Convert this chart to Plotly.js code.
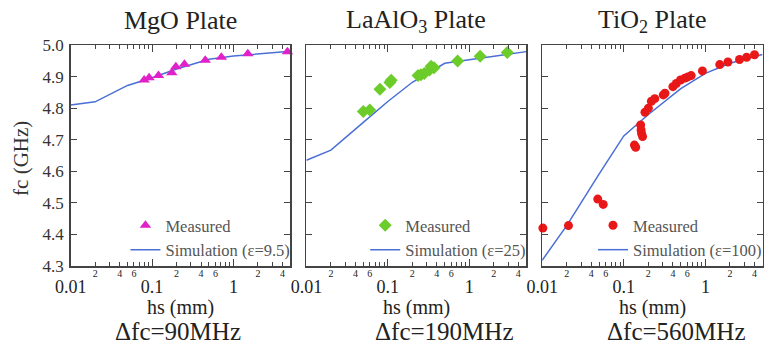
<!DOCTYPE html>
<html>
<head>
<meta charset="utf-8">
<script src="https://cdn.plot.ly/plotly-3.0.1.min.js"></script>
<style>html,body{margin:0;padding:0;background:#fff;}#chart{width:767px;height:345px;}</style>
</head>
<body>
<div id="chart"></div>
<script>
// ---- tick labels ----
const hsMajorTicks = [0.01, 0.1, 1];
const hsMajorText = ['0.01', '0.1', '1'];
const hsMinorTicks = [0.02,0.03,0.04,0.05,0.06,0.07,0.08,0.09,0.2,0.3,0.4,0.5,0.6,0.7,0.8,0.9,2,3,4];
const hsMinorText = ['2','','4','','6','','','','2','','4','','6','','','','2','','4'];
const fcTicks = [4.3, 4.4, 4.5, 4.6, 4.7, 4.8, 4.9, 5.0];

// ---- panel titles / notes ----
const panelTitles = ['MgO Plate', 'LaAlO<sub>3</sub> Plate', 'TiO<sub>2</sub> Plate'];
const deltaLabels = ['\u0394fc=90MHz', '\u0394fc=190MHz', '\u0394fc=560MHz'];
const simNames = ['Simulation (\u03b5=9.5)', 'Simulation (\u03b5=25)', 'Simulation (\u03b5=100)'];

// ---- simulation (shared hs grid) ----
const simHs = [0.01, 0.02, 0.05, 0.1, 0.2, 0.5, 1, 2, 5];
const mgoSimFc = [4.810, 4.820, 4.872, 4.896, 4.924, 4.955, 4.965, 4.971, 4.980];
const laSimFc  = [4.635, 4.667, 4.755, 4.821, 4.882, 4.942, 4.953, 4.965, 4.979];
const tiSimFc  = [4.318, 4.428, 4.592, 4.712, 4.780, 4.862, 4.910, 4.942, 4.970];

// ---- measured ----
const mgoHs = [0.08, 0.092, 0.12, 0.175, 0.196, 0.25, 0.45, 0.71, 1.5, 4.6];
const mgoFc = [4.889, 4.896, 4.903, 4.912, 4.931, 4.939, 4.952, 4.961, 4.972, 4.979];

const laHs = [0.05, 0.06, 0.08, 0.106, 0.11, 0.235, 0.255, 0.28, 0.325, 0.34, 0.37, 0.72, 1.36, 2.93];
const laFc = [4.789, 4.794, 4.860, 4.881, 4.888, 4.903, 4.906, 4.910, 4.921, 4.933, 4.928, 4.949, 4.964, 4.976];

const tiHs = [0.0102, 0.021, 0.048, 0.056, 0.135, 0.14, 0.161, 0.163, 0.165, 0.17, 0.182, 0.2, 0.218, 0.24, 0.305, 0.32, 0.40, 0.44, 0.495, 0.56, 0.61, 0.67, 0.92, 1.5, 1.89, 2.62, 3.2, 4.0];
const tiFc = [4.420, 4.428, 4.512, 4.495, 4.683, 4.676, 4.747, 4.731, 4.720, 4.710, 4.787, 4.800, 4.822, 4.830, 4.842, 4.847, 4.868, 4.878, 4.889, 4.895, 4.899, 4.903, 4.918, 4.938, 4.946, 4.954, 4.961, 4.969];

// ---- styling ----
const W = 767, H = 345;
const FONT = 'Liberation Serif';
const lineColor = '#4a6fd6';
const axisColor = '#444';
const panelsPx = [[71, 292], [308, 529], [545, 766.5]];
const yPx = [45, 266];
const deltaCenters = [179, 446, 680];
const markerStyles = [
  {symbol: 'triangle-up', color: '#e020c8', size: 10},
  {symbol: 'diamond', color: '#6ccc2a', size: 10},
  {symbol: 'circle', color: '#e81818', size: 9}
];
const simData = [mgoSimFc, laSimFc, tiSimFc];
const measHs = [mgoHs, laHs, tiHs];
const measFc = [mgoFc, laFc, tiFc];

const traces = [];
const layout = {
  width: W, height: H,
  margin: {l: 0, r: 0, t: 0, b: 0},
  paper_bgcolor: '#fff', plot_bgcolor: '#fff',
  font: {family: FONT, color: '#222'},
  showlegend: true,
  annotations: [],
};

const yDomain = [1 - yPx[1] / H, 1 - yPx[0] / H];

for (let p = 0; p < 3; p++) {
  const xa = p === 0 ? 'x' : 'x' + (p + 1);
  const ya = p === 0 ? 'y' : 'y' + (p + 1);
  const xmB = 'x' + (p + 4);
  const xmT = 'x' + (p + 7);
  const lg = p === 0 ? 'legend' : 'legend' + (p + 1);
  const dom = [panelsPx[p][0] / W, panelsPx[p][1] / W];

  traces.push({
    type: 'scatter', mode: 'lines', x: simHs, y: simData[p],
    xaxis: xa, yaxis: ya, legend: lg, name: simNames[p],
    line: {color: lineColor, width: 1.5}, cliponaxis: false
  });
  traces.push({
    type: 'scatter', mode: 'markers', x: measHs[p], y: measFc[p],
    xaxis: xa, yaxis: ya, legend: lg, name: 'Measured',
    marker: {symbol: markerStyles[p].symbol, color: markerStyles[p].color, size: markerStyles[p].size},
    cliponaxis: false
  });
  traces.push({type: 'scatter', mode: 'markers', x: [], y: [], xaxis: xmB, yaxis: ya, showlegend: false, hoverinfo: 'skip'});
  traces.push({type: 'scatter', mode: 'markers', x: [], y: [], xaxis: xmT, yaxis: ya, showlegend: false, hoverinfo: 'skip'});

  const xKey = p === 0 ? 'xaxis' : 'xaxis' + (p + 1);
  const yKey = p === 0 ? 'yaxis' : 'yaxis' + (p + 1);
  layout[xKey] = {
    domain: dom, anchor: ya, type: 'log', range: [-2, 0.7],
    tickmode: 'array', tickvals: hsMajorTicks, ticktext: hsMajorText,
    ticks: 'inside', ticklen: 7, tickwidth: 1, tickcolor: axisColor,
    showline: true, linecolor: axisColor, linewidth: 1.5, mirror: 'ticks',
    showgrid: false, zeroline: false,
    tickfont: {family: FONT, size: 18, color: '#222'}, ticklabelstandoff: 4
  };
  layout['xaxis' + (p + 4)] = {
    overlaying: xa, anchor: ya, side: 'bottom', type: 'log', range: [-2, 0.7],
    tickmode: 'array', tickvals: hsMinorTicks, ticktext: hsMinorText,
    ticks: 'inside', ticklen: 4, tickwidth: 1, tickcolor: axisColor,
    showline: false, showgrid: false, zeroline: false,
    tickfont: {family: FONT, size: 10, color: '#222'}, ticklabelstandoff: 0
  };
  layout['xaxis' + (p + 7)] = {
    overlaying: xa, anchor: ya, side: 'top', type: 'log', range: [-2, 0.7],
    tickmode: 'array', tickvals: hsMinorTicks, showticklabels: false,
    ticks: 'inside', ticklen: 4, tickwidth: 1, tickcolor: axisColor,
    showline: false, showgrid: false, zeroline: false
  };
  layout[yKey] = {
    domain: yDomain, anchor: xa, range: [4.3, 5.0],
    tickmode: 'array', tickvals: fcTicks, tickformat: '.1f',
    ticks: 'inside', ticklen: 6, tickwidth: 1, tickcolor: axisColor,
    showline: true, linecolor: axisColor, linewidth: 1.5, mirror: 'ticks',
    showgrid: false, zeroline: false, showticklabels: p === 0,
    tickfont: {family: FONT, size: 17, color: '#333'}, ticklabelstandoff: 2
  };
  layout[lg] = {
    x: (panelsPx[p][1] + 5) / W, xanchor: 'right', xref: 'paper',
    y: yDomain[0] - 1 / H, yanchor: 'bottom', yref: 'paper',
    bgcolor: 'rgba(0,0,0,0)', borderwidth: 0, traceorder: 'reversed',
    font: {family: FONT, size: 16.5, color: '#555'}, itemwidth: 30, tracegroupgap: 0
  };

  const cx = (panelsPx[p][0] + panelsPx[p][1]) / 2;
  layout.annotations.push({
    text: panelTitles[p], x: cx / W, y: 1 - 21 / H, xref: 'paper', yref: 'paper',
    xanchor: 'center', yanchor: 'middle', showarrow: false,
    font: {family: FONT, size: 26, color: '#222'}
  });
  layout.annotations.push({
    text: 'hs (mm)', x: cx / W, y: 1 - 307 / H, xref: 'paper', yref: 'paper',
    xanchor: 'center', yanchor: 'middle', showarrow: false,
    font: {family: FONT, size: 20, color: '#222'}
  });
  layout.annotations.push({
    text: deltaLabels[p], x: deltaCenters[p] / W, y: 1 - 331 / H, xref: 'paper', yref: 'paper',
    xanchor: 'center', yanchor: 'middle', showarrow: false,
    font: {family: FONT, size: 25, color: '#222'}
  });
}

layout.annotations.push({
  text: 'fc (GHz)', x: 21 / W, y: 1 - 158 / H, xref: 'paper', yref: 'paper',
  xanchor: 'center', yanchor: 'middle', textangle: -90, showarrow: false,
  font: {family: FONT, size: 21, color: '#333'}
});

Plotly.newPlot('chart', traces, layout, {displayModeBar: false, staticPlot: true});
</script>
</body>
</html>
